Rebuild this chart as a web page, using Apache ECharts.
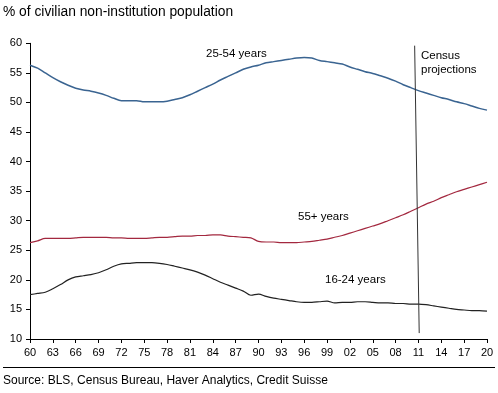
<!DOCTYPE html>
<html>
<head>
<meta charset="utf-8">
<script src="https://cdn.jsdelivr.net/npm/echarts@6/dist/echarts.min.js"></script>
<style>
html,body{margin:0;padding:0;background:#fff;}
#chart{width:498px;height:393px;}
</style>
</head>
<body>
<div id="chart"></div>
<script>
var years = [];
for (var y = 1960; y <= 2020; y++) years.push(y);

var prime = [56.3,55.8,55.0,54.2,53.5,52.9,52.4,52.1,51.9,51.6,
  51.2,50.7,50.3,50.3,50.3,50.1,50.1,50.1,50.2,50.5,
  50.8,51.3,51.9,52.5,53.1,53.8,54.4,55.0,55.6,56.0,
  56.3,56.7,56.9,57.1,57.3,57.5,57.6,57.5,57.1,56.9,
  56.7,56.5,56.0,55.6,55.2,54.9,54.5,54.1,53.6,53.0,
  52.5,52.0,51.6,51.2,50.8,50.5,50.1,49.8,49.4,49.0,48.7];

var older = [26.3,26.6,27.0,27.0,27.0,27.0,27.1,27.2,27.2,27.2,
  27.2,27.1,27.1,27.0,27.0,27.0,27.1,27.2,27.2,27.3,
  27.4,27.4,27.5,27.5,27.6,27.6,27.4,27.3,27.2,27.1,
  26.5,26.4,26.4,26.3,26.3,26.3,26.4,26.5,26.7,26.9,
  27.2,27.5,27.9,28.3,28.7,29.1,29.5,30.0,30.5,31.0,
  31.6,32.2,32.8,33.3,33.9,34.4,34.9,35.3,35.7,36.1,36.5];

var young = [17.5,17.7,17.9,18.5,19.2,20.0,20.5,20.7,20.9,21.2,
  21.7,22.3,22.7,22.8,22.9,22.9,22.9,22.8,22.6,22.3,
  22.0,21.7,21.3,20.8,20.2,19.6,19.1,18.6,18.1,17.4,
  17.6,17.2,16.9,16.7,16.5,16.3,16.2,16.2,16.3,16.4,
  16.1,16.2,16.2,16.3,16.3,16.2,16.1,16.1,16.0,16.0,
  15.9,15.9,15.8,15.6,15.4,15.2,15.0,14.9,14.8,14.8,14.7];

var projectionLine = [[2010.5, 59.6], [2011.1, 11.0]];

function pairs(vals) { return years.map(function (yr, i) { return [yr, vals[i]]; }); }

var chart = echarts.init(document.getElementById('chart'), null, {renderer: 'canvas'});
var font = 'Liberation Sans, Arial, sans-serif';
chart.setOption({
  animation: false,
  backgroundColor: '#fff',
  grid: {left: 30, right: 11, top: 43.3, bottom: 54, containLabel: false},
  xAxis: {
    type: 'value', min: 1960, max: 2020, interval: 3,
    axisLine: {lineStyle: {color: '#000', width: 1}},
    axisTick: {show: true, length: 4, lineStyle: {color: '#000'}},
    splitLine: {show: false},
    axisLabel: {color: '#000', fontFamily: font, fontSize: 11, margin: 8,
      formatter: function (v) { return String(v).slice(2); }}
  },
  yAxis: {
    type: 'value', min: 10, max: 60, interval: 5,
    axisLine: {show: true, lineStyle: {color: '#000', width: 1}},
    axisTick: {show: true, length: 4, lineStyle: {color: '#000'}},
    splitLine: {show: false},
    axisLabel: {color: '#000', fontFamily: font, fontSize: 11, margin: 8}
  },
  series: [
    {type: 'line', data: pairs(prime), smooth: 0.3, showSymbol: false,
      lineStyle: {color: '#3a6491', width: 1.5}},
    {type: 'line', data: pairs(older), smooth: 0.3, showSymbol: false,
      lineStyle: {color: '#a3283f', width: 1.2}},
    {type: 'line', data: pairs(young), smooth: 0.3, showSymbol: false,
      lineStyle: {color: '#222', width: 1.2}},
    {type: 'line', data: projectionLine, showSymbol: false,
      lineStyle: {color: '#333', width: 1}}
  ],
  graphic: [
    {type: 'text', left: 3, top: 5, style: {text: '% of civilian non-institution population', fill: '#000', font: '13.8px ' + font}},
    {type: 'text', left: 206, top: 48, style: {text: '25-54 years', fill: '#000', font: '11.5px ' + font}},
    {type: 'text', left: 421, top: 49, style: {text: 'Census\nprojections', fill: '#000', font: '11.5px ' + font, lineHeight: 14}},
    {type: 'text', left: 298, top: 211, style: {text: '55+ years', fill: '#000', font: '11.5px ' + font}},
    {type: 'text', left: 325, top: 274, style: {text: '16-24 years', fill: '#000', font: '11.5px ' + font}},
    {type: 'line', shape: {x1: 3, y1: 367.5, x2: 495, y2: 367.5}, style: {stroke: '#000', lineWidth: 1}},
    {type: 'text', left: 3, top: 375, style: {text: 'Source: BLS, Census Bureau, Haver Analytics, Credit Suisse', fill: '#000', font: '12px ' + font}}
  ]
});
</script>
</body>
</html>
